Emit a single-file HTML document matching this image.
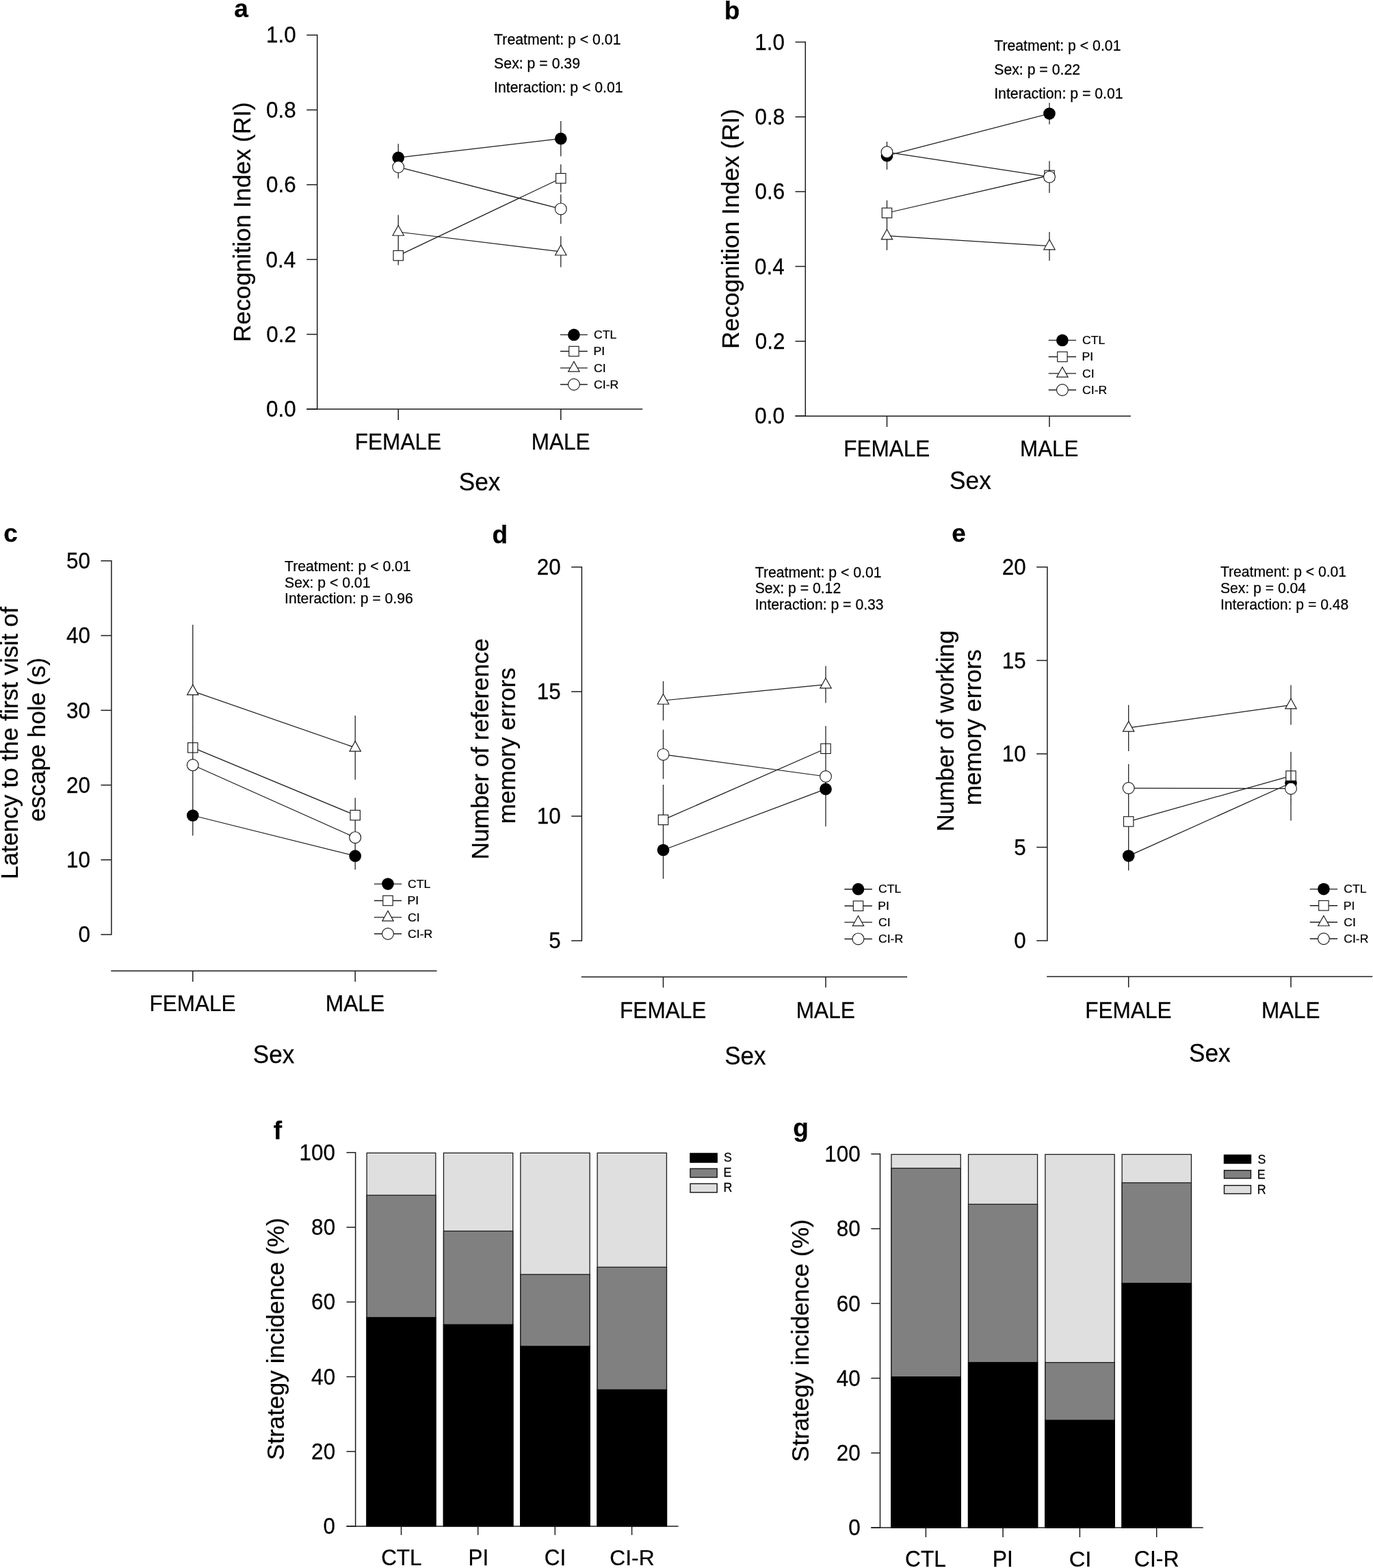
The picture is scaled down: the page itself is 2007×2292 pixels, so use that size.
<!DOCTYPE html>
<html lang="en">
<head>
<meta charset="utf-8">
<title>Figure</title>
<style>
html,body{margin:0;padding:0;background:#fff;}
body{width:2007px;height:2292px;overflow:hidden;}
svg{display:block;font-family:"Liberation Sans",sans-serif;}
svg text{fill:#000;stroke:#000;stroke-width:0.25px;white-space:pre;}
</style>
</head>
<body>
<svg width="2007" height="2292" viewBox="0 0 2007 2292">
<rect x="0" y="0" width="2007" height="2292" fill="#fff"/>
<line x1="463.70" y1="50.55" x2="463.70" y2="598.75" stroke="#1c1c1c" stroke-width="1.5"/>
<line x1="448.30" y1="51.30" x2="463.70" y2="51.30" stroke="#1c1c1c" stroke-width="1.5"/>
<text transform="translate(388.88,62.48) scale(0.9350,1)" font-size="33.70">1.0</text>
<line x1="448.30" y1="160.64" x2="463.70" y2="160.64" stroke="#1c1c1c" stroke-width="1.5"/>
<text transform="translate(389.04,171.82) scale(0.9350,1)" font-size="33.70">0.8</text>
<line x1="448.30" y1="269.98" x2="463.70" y2="269.98" stroke="#1c1c1c" stroke-width="1.5"/>
<text transform="translate(389.04,281.16) scale(0.9350,1)" font-size="33.70">0.6</text>
<line x1="448.30" y1="379.32" x2="463.70" y2="379.32" stroke="#1c1c1c" stroke-width="1.5"/>
<text transform="translate(388.57,390.50) scale(0.9350,1)" font-size="33.70">0.4</text>
<line x1="448.30" y1="488.66" x2="463.70" y2="488.66" stroke="#1c1c1c" stroke-width="1.5"/>
<text transform="translate(389.28,499.84) scale(0.9350,1)" font-size="33.70">0.2</text>
<line x1="448.30" y1="598.00" x2="463.70" y2="598.00" stroke="#1c1c1c" stroke-width="1.5"/>
<text transform="translate(388.88,609.18) scale(0.9350,1)" font-size="33.70">0.0</text>
<line x1="448.30" y1="598.10" x2="939.20" y2="598.10" stroke="#1c1c1c" stroke-width="1.5"/>
<line x1="582.20" y1="598.10" x2="582.20" y2="613.90" stroke="#1c1c1c" stroke-width="1.5"/>
<text transform="translate(518.80,657.30) scale(0.9773,1)" font-size="32.30">FEMALE</text>
<line x1="819.80" y1="598.10" x2="819.80" y2="613.90" stroke="#1c1c1c" stroke-width="1.5"/>
<text transform="translate(776.70,657.30) scale(0.9750,1)" font-size="32.30">MALE</text>
<text transform="translate(670.71,716.90) scale(0.9477,1)" font-size="37.20">Sex</text>
<text transform="translate(365.70,499.91) rotate(-90) scale(0.9821,1)" font-size="35.90">Recognition Index (RI)</text>
<text transform="translate(342.29,24.70)" font-size="37.00" font-weight="bold">a</text>
<text transform="translate(722.12,64.70) scale(0.9673,1)" font-size="22.00">Treatment: p &lt; 0.01</text>
<text transform="translate(722.12,99.80) scale(0.9673,1)" font-size="22.00">Sex: p = 0.39</text>
<text transform="translate(722.12,135.00) scale(0.9673,1)" font-size="22.00">Interaction: p &lt; 0.01</text>
<line x1="582.20" y1="210.20" x2="582.20" y2="250.60" stroke="#1c1c1c" stroke-width="1.25"/>
<line x1="819.80" y1="177.10" x2="819.80" y2="228.60" stroke="#1c1c1c" stroke-width="1.25"/>
<line x1="582.20" y1="230.40" x2="819.80" y2="202.70" stroke="#1c1c1c" stroke-width="1.25"/>
<circle cx="582.20" cy="230.40" r="8.85" fill="#000"/>
<circle cx="819.80" cy="202.70" r="8.85" fill="#000"/>
<line x1="582.20" y1="359.70" x2="582.20" y2="387.50" stroke="#1c1c1c" stroke-width="1.25"/>
<line x1="819.80" y1="240.20" x2="819.80" y2="281.30" stroke="#1c1c1c" stroke-width="1.25"/>
<line x1="582.20" y1="373.60" x2="819.80" y2="260.70" stroke="#1c1c1c" stroke-width="1.25"/>
<rect x="575.00" y="366.40" width="14.40" height="14.40" fill="#fff" stroke="#1c1c1c" stroke-width="1.15"/>
<rect x="812.60" y="253.50" width="14.40" height="14.40" fill="#fff" stroke="#1c1c1c" stroke-width="1.15"/>
<line x1="582.20" y1="314.30" x2="582.20" y2="360.00" stroke="#1c1c1c" stroke-width="1.25"/>
<line x1="819.80" y1="345.20" x2="819.80" y2="390.50" stroke="#1c1c1c" stroke-width="1.25"/>
<line x1="582.20" y1="339.00" x2="819.80" y2="367.80" stroke="#1c1c1c" stroke-width="1.25"/>
<polygon points="582.20,329.50 590.40,344.20 574.00,344.20" fill="#fff" stroke="#1c1c1c" stroke-width="1.15" stroke-linejoin="miter"/>
<polygon points="819.80,358.30 828.00,373.00 811.60,373.00" fill="#fff" stroke="#1c1c1c" stroke-width="1.15" stroke-linejoin="miter"/>
<line x1="582.20" y1="238.55" x2="582.20" y2="239.55" stroke="#1c1c1c" stroke-width="1.25"/>
<line x1="582.20" y1="250.30" x2="582.20" y2="260.70" stroke="#1c1c1c" stroke-width="1.25"/>
<line x1="819.80" y1="284.30" x2="819.80" y2="327.30" stroke="#1c1c1c" stroke-width="1.25"/>
<line x1="582.20" y1="244.10" x2="819.80" y2="305.40" stroke="#1c1c1c" stroke-width="1.25"/>
<circle cx="582.20" cy="244.10" r="8.4" fill="#fff" stroke="#1c1c1c" stroke-width="1.15"/>
<circle cx="819.80" cy="305.40" r="8.4" fill="#fff" stroke="#1c1c1c" stroke-width="1.15"/>
<line x1="819.00" y1="489.40" x2="858.80" y2="489.40" stroke="#1c1c1c" stroke-width="1.35"/>
<circle cx="838.90" cy="489.40" r="8.85" fill="#000"/>
<text transform="translate(868.02,495.30) scale(1.0150,1)" font-size="17.40">CTL</text>
<line x1="819.00" y1="513.50" x2="858.80" y2="513.50" stroke="#1c1c1c" stroke-width="1.35"/>
<rect x="831.70" y="506.30" width="14.40" height="14.40" fill="#fff" stroke="#1c1c1c" stroke-width="1.15"/>
<text transform="translate(867.44,519.40) scale(1.0150,1)" font-size="17.40">PI</text>
<line x1="819.00" y1="537.90" x2="858.80" y2="537.90" stroke="#1c1c1c" stroke-width="1.35"/>
<polygon points="838.90,528.40 847.10,543.10 830.70,543.10" fill="#fff" stroke="#1c1c1c" stroke-width="1.15" stroke-linejoin="miter"/>
<text transform="translate(868.02,543.80) scale(1.0150,1)" font-size="17.40">CI</text>
<line x1="819.00" y1="562.00" x2="858.80" y2="562.00" stroke="#1c1c1c" stroke-width="1.35"/>
<circle cx="838.90" cy="562.00" r="8.4" fill="#fff" stroke="#1c1c1c" stroke-width="1.15"/>
<text transform="translate(868.02,567.90) scale(1.0150,1)" font-size="17.40">CI-R</text>
<line x1="1177.30" y1="60.75" x2="1177.30" y2="608.85" stroke="#1c1c1c" stroke-width="1.5"/>
<line x1="1162.50" y1="61.50" x2="1177.30" y2="61.50" stroke="#1c1c1c" stroke-width="1.5"/>
<text transform="translate(1103.28,72.68) scale(0.9350,1)" font-size="33.70">1.0</text>
<line x1="1162.50" y1="170.82" x2="1177.30" y2="170.82" stroke="#1c1c1c" stroke-width="1.5"/>
<text transform="translate(1103.44,182.00) scale(0.9350,1)" font-size="33.70">0.8</text>
<line x1="1162.50" y1="280.14" x2="1177.30" y2="280.14" stroke="#1c1c1c" stroke-width="1.5"/>
<text transform="translate(1103.44,291.32) scale(0.9350,1)" font-size="33.70">0.6</text>
<line x1="1162.50" y1="389.46" x2="1177.30" y2="389.46" stroke="#1c1c1c" stroke-width="1.5"/>
<text transform="translate(1102.97,400.64) scale(0.9350,1)" font-size="33.70">0.4</text>
<line x1="1162.50" y1="498.78" x2="1177.30" y2="498.78" stroke="#1c1c1c" stroke-width="1.5"/>
<text transform="translate(1103.68,509.96) scale(0.9350,1)" font-size="33.70">0.2</text>
<line x1="1162.50" y1="608.10" x2="1177.30" y2="608.10" stroke="#1c1c1c" stroke-width="1.5"/>
<text transform="translate(1103.28,619.28) scale(0.9350,1)" font-size="33.70">0.0</text>
<line x1="1162.50" y1="608.20" x2="1652.90" y2="608.20" stroke="#1c1c1c" stroke-width="1.5"/>
<line x1="1296.50" y1="608.20" x2="1296.50" y2="624.00" stroke="#1c1c1c" stroke-width="1.5"/>
<text transform="translate(1233.20,667.30) scale(0.9757,1)" font-size="32.30">FEMALE</text>
<line x1="1534.00" y1="608.20" x2="1534.00" y2="624.00" stroke="#1c1c1c" stroke-width="1.5"/>
<text transform="translate(1491.11,667.30) scale(0.9702,1)" font-size="32.30">MALE</text>
<text transform="translate(1388.11,715.10) scale(0.9477,1)" font-size="37.20">Sex</text>
<text transform="translate(1080.20,509.91) rotate(-90) scale(0.9824,1)" font-size="35.90">Recognition Index (RI)</text>
<text transform="translate(1058.69,28.10)" font-size="37.00" font-weight="bold">b</text>
<text transform="translate(1453.22,74.00) scale(0.9661,1)" font-size="22.00">Treatment: p &lt; 0.01</text>
<text transform="translate(1453.22,109.10) scale(0.9661,1)" font-size="22.00">Sex: p = 0.22</text>
<text transform="translate(1453.22,144.30) scale(0.9661,1)" font-size="22.00">Interaction: p = 0.01</text>
<line x1="1296.50" y1="207.50" x2="1296.50" y2="247.90" stroke="#1c1c1c" stroke-width="1.25"/>
<line x1="1534.00" y1="150.20" x2="1534.00" y2="181.80" stroke="#1c1c1c" stroke-width="1.25"/>
<line x1="1296.50" y1="227.70" x2="1534.00" y2="166.10" stroke="#1c1c1c" stroke-width="1.25"/>
<circle cx="1296.50" cy="227.70" r="8.85" fill="#000"/>
<circle cx="1534.00" cy="166.10" r="8.85" fill="#000"/>
<line x1="1296.50" y1="292.90" x2="1296.50" y2="329.60" stroke="#1c1c1c" stroke-width="1.25"/>
<line x1="1534.00" y1="235.40" x2="1534.00" y2="277.40" stroke="#1c1c1c" stroke-width="1.25"/>
<line x1="1296.50" y1="311.25" x2="1534.00" y2="256.40" stroke="#1c1c1c" stroke-width="1.25"/>
<rect x="1289.30" y="304.05" width="14.40" height="14.40" fill="#fff" stroke="#1c1c1c" stroke-width="1.15"/>
<rect x="1526.80" y="249.20" width="14.40" height="14.40" fill="#fff" stroke="#1c1c1c" stroke-width="1.15"/>
<line x1="1296.50" y1="329.30" x2="1296.50" y2="365.70" stroke="#1c1c1c" stroke-width="1.25"/>
<line x1="1534.00" y1="338.90" x2="1534.00" y2="380.90" stroke="#1c1c1c" stroke-width="1.25"/>
<line x1="1296.50" y1="344.70" x2="1534.00" y2="359.60" stroke="#1c1c1c" stroke-width="1.25"/>
<polygon points="1296.50,335.20 1304.70,349.90 1288.30,349.90" fill="#fff" stroke="#1c1c1c" stroke-width="1.15" stroke-linejoin="miter"/>
<polygon points="1534.00,350.10 1542.20,364.80 1525.80,364.80" fill="#fff" stroke="#1c1c1c" stroke-width="1.15" stroke-linejoin="miter"/>
<line x1="1296.50" y1="207.10" x2="1296.50" y2="207.80" stroke="#1c1c1c" stroke-width="1.25"/>
<line x1="1296.50" y1="218.55" x2="1296.50" y2="219.55" stroke="#1c1c1c" stroke-width="1.25"/>
<line x1="1296.50" y1="235.85" x2="1296.50" y2="236.85" stroke="#1c1c1c" stroke-width="1.25"/>
<line x1="1534.00" y1="235.40" x2="1534.00" y2="235.70" stroke="#1c1c1c" stroke-width="1.25"/>
<line x1="1534.00" y1="248.70" x2="1534.00" y2="264.10" stroke="#1c1c1c" stroke-width="1.25"/>
<line x1="1534.00" y1="277.10" x2="1534.00" y2="282.10" stroke="#1c1c1c" stroke-width="1.25"/>
<line x1="1296.50" y1="222.30" x2="1534.00" y2="258.60" stroke="#1c1c1c" stroke-width="1.25"/>
<circle cx="1296.50" cy="222.30" r="8.4" fill="#fff" stroke="#1c1c1c" stroke-width="1.15"/>
<circle cx="1534.00" cy="258.60" r="8.4" fill="#fff" stroke="#1c1c1c" stroke-width="1.15"/>
<line x1="1532.70" y1="497.40" x2="1573.10" y2="497.40" stroke="#1c1c1c" stroke-width="1.35"/>
<circle cx="1552.90" cy="497.40" r="8.85" fill="#000"/>
<text transform="translate(1582.02,503.25) scale(1.0150,1)" font-size="17.40">CTL</text>
<line x1="1532.70" y1="521.50" x2="1573.10" y2="521.50" stroke="#1c1c1c" stroke-width="1.35"/>
<rect x="1545.70" y="514.30" width="14.40" height="14.40" fill="#fff" stroke="#1c1c1c" stroke-width="1.15"/>
<text transform="translate(1581.44,527.35) scale(1.0150,1)" font-size="17.40">PI</text>
<line x1="1532.70" y1="545.90" x2="1573.10" y2="545.90" stroke="#1c1c1c" stroke-width="1.35"/>
<polygon points="1552.90,536.40 1561.10,551.10 1544.70,551.10" fill="#fff" stroke="#1c1c1c" stroke-width="1.15" stroke-linejoin="miter"/>
<text transform="translate(1582.02,551.75) scale(1.0150,1)" font-size="17.40">CI</text>
<line x1="1532.70" y1="570.00" x2="1573.10" y2="570.00" stroke="#1c1c1c" stroke-width="1.35"/>
<circle cx="1552.90" cy="570.00" r="8.4" fill="#fff" stroke="#1c1c1c" stroke-width="1.15"/>
<text transform="translate(1582.02,575.85) scale(1.0150,1)" font-size="17.40">CI-R</text>
<line x1="162.90" y1="819.05" x2="162.90" y2="1366.85" stroke="#1c1c1c" stroke-width="1.5"/>
<line x1="147.50" y1="819.80" x2="162.90" y2="819.80" stroke="#1c1c1c" stroke-width="1.5"/>
<text transform="translate(97.01,830.98) scale(0.9350,1)" font-size="33.70">50</text>
<line x1="147.50" y1="929.06" x2="162.90" y2="929.06" stroke="#1c1c1c" stroke-width="1.5"/>
<text transform="translate(97.01,940.24) scale(0.9350,1)" font-size="33.70">40</text>
<line x1="147.50" y1="1038.32" x2="162.90" y2="1038.32" stroke="#1c1c1c" stroke-width="1.5"/>
<text transform="translate(97.01,1049.50) scale(0.9350,1)" font-size="33.70">30</text>
<line x1="147.50" y1="1147.58" x2="162.90" y2="1147.58" stroke="#1c1c1c" stroke-width="1.5"/>
<text transform="translate(97.01,1158.76) scale(0.9350,1)" font-size="33.70">20</text>
<line x1="147.50" y1="1256.84" x2="162.90" y2="1256.84" stroke="#1c1c1c" stroke-width="1.5"/>
<text transform="translate(97.01,1268.02) scale(0.9350,1)" font-size="33.70">10</text>
<line x1="147.50" y1="1366.10" x2="162.90" y2="1366.10" stroke="#1c1c1c" stroke-width="1.5"/>
<text transform="translate(114.49,1377.28) scale(0.9350,1)" font-size="33.70">0</text>
<line x1="162.20" y1="1419.20" x2="638.60" y2="1419.20" stroke="#1c1c1c" stroke-width="1.5"/>
<line x1="281.80" y1="1419.20" x2="281.80" y2="1434.90" stroke="#1c1c1c" stroke-width="1.5"/>
<text transform="translate(218.60,1478.40) scale(0.9741,1)" font-size="32.30">FEMALE</text>
<line x1="519.20" y1="1419.20" x2="519.20" y2="1434.90" stroke="#1c1c1c" stroke-width="1.5"/>
<text transform="translate(475.68,1478.40) scale(0.9845,1)" font-size="32.30">MALE</text>
<text transform="translate(369.82,1554.30) scale(0.9445,1)" font-size="37.20">Sex</text>
<text transform="translate(26.20,1285.21) rotate(-90) scale(0.9834,1)" font-size="35.90">Latency to the first visit of</text>
<text transform="translate(65.90,1200.89) rotate(-90) scale(0.9764,1)" font-size="35.90">escape hole (s)</text>
<text transform="translate(5.32,791.70)" font-size="37.00" font-weight="bold">c</text>
<text transform="translate(416.07,835.00) scale(0.9630,1)" font-size="22.00">Treatment: p &lt; 0.01</text>
<text transform="translate(416.07,858.50) scale(0.9630,1)" font-size="22.00">Sex: p &lt; 0.01</text>
<text transform="translate(416.07,882.00) scale(0.9630,1)" font-size="22.00">Interaction: p = 0.96</text>
<line x1="281.80" y1="1162.50" x2="281.80" y2="1221.50" stroke="#1c1c1c" stroke-width="1.25"/>
<line x1="519.20" y1="1231.10" x2="519.20" y2="1271.30" stroke="#1c1c1c" stroke-width="1.25"/>
<line x1="281.80" y1="1192.00" x2="519.20" y2="1251.20" stroke="#1c1c1c" stroke-width="1.25"/>
<circle cx="281.80" cy="1192.00" r="8.85" fill="#000"/>
<circle cx="519.20" cy="1251.20" r="8.85" fill="#000"/>
<line x1="281.80" y1="1063.00" x2="281.80" y2="1123.00" stroke="#1c1c1c" stroke-width="1.25"/>
<line x1="519.20" y1="1166.20" x2="519.20" y2="1217.00" stroke="#1c1c1c" stroke-width="1.25"/>
<line x1="281.80" y1="1092.90" x2="519.20" y2="1191.60" stroke="#1c1c1c" stroke-width="1.25"/>
<rect x="274.60" y="1085.70" width="14.40" height="14.40" fill="#fff" stroke="#1c1c1c" stroke-width="1.15"/>
<rect x="512.00" y="1184.40" width="14.40" height="14.40" fill="#fff" stroke="#1c1c1c" stroke-width="1.15"/>
<line x1="281.80" y1="913.20" x2="281.80" y2="1063.30" stroke="#1c1c1c" stroke-width="1.25"/>
<line x1="281.80" y1="1085.20" x2="281.80" y2="1100.60" stroke="#1c1c1c" stroke-width="1.25"/>
<line x1="519.20" y1="1046.05" x2="519.20" y2="1139.80" stroke="#1c1c1c" stroke-width="1.25"/>
<line x1="281.80" y1="1010.40" x2="519.20" y2="1092.90" stroke="#1c1c1c" stroke-width="1.25"/>
<polygon points="281.80,1000.90 290.00,1015.60 273.60,1015.60" fill="#fff" stroke="#1c1c1c" stroke-width="1.15" stroke-linejoin="miter"/>
<polygon points="519.20,1083.40 527.40,1098.10 511.00,1098.10" fill="#fff" stroke="#1c1c1c" stroke-width="1.15" stroke-linejoin="miter"/>
<line x1="281.80" y1="1107.30" x2="281.80" y2="1107.90" stroke="#1c1c1c" stroke-width="1.25"/>
<line x1="281.80" y1="1122.70" x2="281.80" y2="1162.80" stroke="#1c1c1c" stroke-width="1.25"/>
<line x1="519.20" y1="1216.70" x2="519.20" y2="1231.40" stroke="#1c1c1c" stroke-width="1.25"/>
<line x1="519.20" y1="1242.05" x2="519.20" y2="1243.05" stroke="#1c1c1c" stroke-width="1.25"/>
<line x1="281.80" y1="1118.30" x2="519.20" y2="1224.20" stroke="#1c1c1c" stroke-width="1.25"/>
<circle cx="281.80" cy="1118.30" r="8.4" fill="#fff" stroke="#1c1c1c" stroke-width="1.15"/>
<circle cx="519.20" cy="1224.20" r="8.4" fill="#fff" stroke="#1c1c1c" stroke-width="1.15"/>
<line x1="546.90" y1="1292.10" x2="587.10" y2="1292.10" stroke="#1c1c1c" stroke-width="1.35"/>
<circle cx="567.00" cy="1292.10" r="8.85" fill="#000"/>
<text transform="translate(596.02,1297.80) scale(1.0150,1)" font-size="17.40">CTL</text>
<line x1="546.90" y1="1316.50" x2="587.10" y2="1316.50" stroke="#1c1c1c" stroke-width="1.35"/>
<rect x="559.80" y="1309.30" width="14.40" height="14.40" fill="#fff" stroke="#1c1c1c" stroke-width="1.15"/>
<text transform="translate(595.44,1322.20) scale(1.0150,1)" font-size="17.40">PI</text>
<line x1="546.90" y1="1340.90" x2="587.10" y2="1340.90" stroke="#1c1c1c" stroke-width="1.35"/>
<polygon points="567.00,1331.40 575.20,1346.10 558.80,1346.10" fill="#fff" stroke="#1c1c1c" stroke-width="1.15" stroke-linejoin="miter"/>
<text transform="translate(596.02,1346.60) scale(1.0150,1)" font-size="17.40">CI</text>
<line x1="546.90" y1="1365.00" x2="587.10" y2="1365.00" stroke="#1c1c1c" stroke-width="1.35"/>
<circle cx="567.00" cy="1365.00" r="8.4" fill="#fff" stroke="#1c1c1c" stroke-width="1.15"/>
<text transform="translate(596.02,1370.70) scale(1.0150,1)" font-size="17.40">CI-R</text>
<line x1="850.40" y1="828.15" x2="850.40" y2="1375.85" stroke="#1c1c1c" stroke-width="1.5"/>
<line x1="835.20" y1="828.90" x2="850.40" y2="828.90" stroke="#1c1c1c" stroke-width="1.5"/>
<text transform="translate(784.71,840.08) scale(0.9350,1)" font-size="33.70">20</text>
<line x1="835.20" y1="1010.97" x2="850.40" y2="1010.97" stroke="#1c1c1c" stroke-width="1.5"/>
<text transform="translate(784.78,1022.15) scale(0.9350,1)" font-size="33.70">15</text>
<line x1="835.20" y1="1193.03" x2="850.40" y2="1193.03" stroke="#1c1c1c" stroke-width="1.5"/>
<text transform="translate(784.71,1204.21) scale(0.9350,1)" font-size="33.70">10</text>
<line x1="835.20" y1="1375.10" x2="850.40" y2="1375.10" stroke="#1c1c1c" stroke-width="1.5"/>
<text transform="translate(802.27,1386.28) scale(0.9350,1)" font-size="33.70">5</text>
<line x1="849.70" y1="1428.00" x2="1326.10" y2="1428.00" stroke="#1c1c1c" stroke-width="1.5"/>
<line x1="969.50" y1="1428.00" x2="969.50" y2="1443.60" stroke="#1c1c1c" stroke-width="1.5"/>
<text transform="translate(906.10,1487.80) scale(0.9773,1)" font-size="32.30">FEMALE</text>
<line x1="1207.00" y1="1428.00" x2="1207.00" y2="1443.60" stroke="#1c1c1c" stroke-width="1.5"/>
<text transform="translate(1163.64,1487.80) scale(0.9809,1)" font-size="32.30">MALE</text>
<text transform="translate(1059.22,1555.80) scale(0.9429,1)" font-size="37.20">Sex</text>
<text transform="translate(714.20,1256.51) rotate(-90) scale(0.9821,1)" font-size="35.90">Number of reference</text>
<text transform="translate(753.05,1204.37) rotate(-90) scale(0.9792,1)" font-size="35.90">memory errors</text>
<text transform="translate(719.52,794.40)" font-size="37.00" font-weight="bold">d</text>
<text transform="translate(1103.72,843.80) scale(0.9637,1)" font-size="22.00">Treatment: p &lt; 0.01</text>
<text transform="translate(1103.72,867.30) scale(0.9637,1)" font-size="22.00">Sex: p = 0.12</text>
<text transform="translate(1103.72,890.95) scale(0.9637,1)" font-size="22.00">Interaction: p = 0.33</text>
<line x1="969.50" y1="1200.40" x2="969.50" y2="1284.60" stroke="#1c1c1c" stroke-width="1.25"/>
<line x1="1207.00" y1="1098.90" x2="1207.00" y2="1207.90" stroke="#1c1c1c" stroke-width="1.25"/>
<line x1="969.50" y1="1242.50" x2="1207.00" y2="1153.40" stroke="#1c1c1c" stroke-width="1.25"/>
<circle cx="969.50" cy="1242.50" r="8.85" fill="#000"/>
<circle cx="1207.00" cy="1153.40" r="8.85" fill="#000"/>
<line x1="969.50" y1="1147.00" x2="969.50" y2="1200.70" stroke="#1c1c1c" stroke-width="1.25"/>
<line x1="969.50" y1="1233.35" x2="969.50" y2="1234.35" stroke="#1c1c1c" stroke-width="1.25"/>
<line x1="1207.00" y1="1061.25" x2="1207.00" y2="1099.20" stroke="#1c1c1c" stroke-width="1.25"/>
<line x1="969.50" y1="1198.40" x2="1207.00" y2="1094.30" stroke="#1c1c1c" stroke-width="1.25"/>
<rect x="962.30" y="1191.20" width="14.40" height="14.40" fill="#fff" stroke="#1c1c1c" stroke-width="1.15"/>
<rect x="1199.80" y="1087.10" width="14.40" height="14.40" fill="#fff" stroke="#1c1c1c" stroke-width="1.15"/>
<line x1="969.50" y1="995.70" x2="969.50" y2="1053.20" stroke="#1c1c1c" stroke-width="1.25"/>
<line x1="1207.00" y1="973.40" x2="1207.00" y2="1027.50" stroke="#1c1c1c" stroke-width="1.25"/>
<line x1="969.50" y1="1024.00" x2="1207.00" y2="1000.70" stroke="#1c1c1c" stroke-width="1.25"/>
<polygon points="969.50,1014.50 977.70,1029.20 961.30,1029.20" fill="#fff" stroke="#1c1c1c" stroke-width="1.15" stroke-linejoin="miter"/>
<polygon points="1207.00,991.20 1215.20,1005.90 1198.80,1005.90" fill="#fff" stroke="#1c1c1c" stroke-width="1.15" stroke-linejoin="miter"/>
<line x1="969.50" y1="1066.60" x2="969.50" y2="1138.60" stroke="#1c1c1c" stroke-width="1.25"/>
<line x1="1207.00" y1="1086.60" x2="1207.00" y2="1102.00" stroke="#1c1c1c" stroke-width="1.25"/>
<line x1="1207.00" y1="1127.00" x2="1207.00" y2="1127.60" stroke="#1c1c1c" stroke-width="1.25"/>
<line x1="1207.00" y1="1144.25" x2="1207.00" y2="1145.25" stroke="#1c1c1c" stroke-width="1.25"/>
<line x1="1207.00" y1="1161.55" x2="1207.00" y2="1162.55" stroke="#1c1c1c" stroke-width="1.25"/>
<line x1="969.50" y1="1102.90" x2="1207.00" y2="1135.00" stroke="#1c1c1c" stroke-width="1.25"/>
<circle cx="969.50" cy="1102.90" r="8.4" fill="#fff" stroke="#1c1c1c" stroke-width="1.15"/>
<circle cx="1207.00" cy="1135.00" r="8.4" fill="#fff" stroke="#1c1c1c" stroke-width="1.15"/>
<line x1="1234.40" y1="1299.70" x2="1274.90" y2="1299.70" stroke="#1c1c1c" stroke-width="1.35"/>
<circle cx="1254.50" cy="1299.70" r="8.85" fill="#000"/>
<text transform="translate(1283.92,1305.45) scale(1.0150,1)" font-size="17.40">CTL</text>
<line x1="1234.40" y1="1324.20" x2="1274.90" y2="1324.20" stroke="#1c1c1c" stroke-width="1.35"/>
<rect x="1247.30" y="1317.00" width="14.40" height="14.40" fill="#fff" stroke="#1c1c1c" stroke-width="1.15"/>
<text transform="translate(1283.34,1329.95) scale(1.0150,1)" font-size="17.40">PI</text>
<line x1="1234.40" y1="1348.10" x2="1274.90" y2="1348.10" stroke="#1c1c1c" stroke-width="1.35"/>
<polygon points="1254.50,1338.60 1262.70,1353.30 1246.30,1353.30" fill="#fff" stroke="#1c1c1c" stroke-width="1.15" stroke-linejoin="miter"/>
<text transform="translate(1283.92,1353.85) scale(1.0150,1)" font-size="17.40">CI</text>
<line x1="1234.40" y1="1372.45" x2="1274.90" y2="1372.45" stroke="#1c1c1c" stroke-width="1.35"/>
<circle cx="1254.50" cy="1372.45" r="8.4" fill="#fff" stroke="#1c1c1c" stroke-width="1.15"/>
<text transform="translate(1283.92,1378.20) scale(1.0150,1)" font-size="17.40">CI-R</text>
<line x1="1530.90" y1="828.15" x2="1530.90" y2="1375.75" stroke="#1c1c1c" stroke-width="1.5"/>
<line x1="1515.20" y1="828.90" x2="1530.90" y2="828.90" stroke="#1c1c1c" stroke-width="1.5"/>
<text transform="translate(1464.71,840.08) scale(0.9350,1)" font-size="33.70">20</text>
<line x1="1515.20" y1="965.42" x2="1530.90" y2="965.42" stroke="#1c1c1c" stroke-width="1.5"/>
<text transform="translate(1464.78,976.60) scale(0.9350,1)" font-size="33.70">15</text>
<line x1="1515.20" y1="1101.95" x2="1530.90" y2="1101.95" stroke="#1c1c1c" stroke-width="1.5"/>
<text transform="translate(1464.71,1113.13) scale(0.9350,1)" font-size="33.70">10</text>
<line x1="1515.20" y1="1238.47" x2="1530.90" y2="1238.47" stroke="#1c1c1c" stroke-width="1.5"/>
<text transform="translate(1482.27,1249.65) scale(0.9350,1)" font-size="33.70">5</text>
<line x1="1515.20" y1="1375.00" x2="1530.90" y2="1375.00" stroke="#1c1c1c" stroke-width="1.5"/>
<text transform="translate(1482.19,1386.18) scale(0.9350,1)" font-size="33.70">0</text>
<line x1="1530.20" y1="1427.60" x2="2006.30" y2="1427.60" stroke="#1c1c1c" stroke-width="1.5"/>
<line x1="1649.70" y1="1427.60" x2="1649.70" y2="1443.30" stroke="#1c1c1c" stroke-width="1.5"/>
<text transform="translate(1586.30,1487.80) scale(0.9773,1)" font-size="32.30">FEMALE</text>
<line x1="1887.00" y1="1427.60" x2="1887.00" y2="1443.30" stroke="#1c1c1c" stroke-width="1.5"/>
<text transform="translate(1843.90,1487.80) scale(0.9750,1)" font-size="32.30">MALE</text>
<text transform="translate(1738.07,1551.50) scale(0.9445,1)" font-size="37.20">Sex</text>
<text transform="translate(1394.20,1215.49) rotate(-90) scale(0.9764,1)" font-size="35.90">Number of working</text>
<text transform="translate(1433.60,1177.37) rotate(-90) scale(0.9784,1)" font-size="35.90">memory errors</text>
<text transform="translate(1391.32,792.20)" font-size="37.00" font-weight="bold">e</text>
<text transform="translate(1783.92,843.40) scale(0.9608,1)" font-size="22.00">Treatment: p &lt; 0.01</text>
<text transform="translate(1783.92,867.00) scale(0.9608,1)" font-size="22.00">Sex: p = 0.04</text>
<text transform="translate(1783.92,890.50) scale(0.9608,1)" font-size="22.00">Interaction: p = 0.48</text>
<line x1="1649.70" y1="1229.70" x2="1649.70" y2="1272.50" stroke="#1c1c1c" stroke-width="1.25"/>
<line x1="1887.00" y1="1115.00" x2="1887.00" y2="1174.00" stroke="#1c1c1c" stroke-width="1.25"/>
<line x1="1649.70" y1="1251.10" x2="1887.00" y2="1144.50" stroke="#1c1c1c" stroke-width="1.25"/>
<circle cx="1649.70" cy="1251.10" r="8.85" fill="#000"/>
<circle cx="1887.00" cy="1144.50" r="8.85" fill="#000"/>
<line x1="1649.70" y1="1170.00" x2="1649.70" y2="1230.00" stroke="#1c1c1c" stroke-width="1.25"/>
<line x1="1887.00" y1="1099.10" x2="1887.00" y2="1115.30" stroke="#1c1c1c" stroke-width="1.25"/>
<line x1="1887.00" y1="1135.35" x2="1887.00" y2="1136.35" stroke="#1c1c1c" stroke-width="1.25"/>
<line x1="1887.00" y1="1152.65" x2="1887.00" y2="1153.65" stroke="#1c1c1c" stroke-width="1.25"/>
<line x1="1649.70" y1="1200.90" x2="1887.00" y2="1134.10" stroke="#1c1c1c" stroke-width="1.25"/>
<rect x="1642.50" y="1193.70" width="14.40" height="14.40" fill="#fff" stroke="#1c1c1c" stroke-width="1.15"/>
<rect x="1879.80" y="1126.90" width="14.40" height="14.40" fill="#fff" stroke="#1c1c1c" stroke-width="1.15"/>
<line x1="1649.70" y1="1030.40" x2="1649.70" y2="1097.90" stroke="#1c1c1c" stroke-width="1.25"/>
<line x1="1887.00" y1="1001.40" x2="1887.00" y2="1059.50" stroke="#1c1c1c" stroke-width="1.25"/>
<line x1="1649.70" y1="1063.90" x2="1887.00" y2="1030.70" stroke="#1c1c1c" stroke-width="1.25"/>
<polygon points="1649.70,1054.40 1657.90,1069.10 1641.50,1069.10" fill="#fff" stroke="#1c1c1c" stroke-width="1.15" stroke-linejoin="miter"/>
<polygon points="1887.00,1021.20 1895.20,1035.90 1878.80,1035.90" fill="#fff" stroke="#1c1c1c" stroke-width="1.15" stroke-linejoin="miter"/>
<line x1="1649.70" y1="1117.10" x2="1649.70" y2="1170.30" stroke="#1c1c1c" stroke-width="1.25"/>
<line x1="1887.00" y1="1126.40" x2="1887.00" y2="1141.80" stroke="#1c1c1c" stroke-width="1.25"/>
<line x1="1887.00" y1="1168.80" x2="1887.00" y2="1169.40" stroke="#1c1c1c" stroke-width="1.25"/>
<line x1="1887.00" y1="1173.70" x2="1887.00" y2="1199.60" stroke="#1c1c1c" stroke-width="1.25"/>
<line x1="1649.70" y1="1152.00" x2="1887.00" y2="1152.70" stroke="#1c1c1c" stroke-width="1.25"/>
<circle cx="1649.70" cy="1152.00" r="8.4" fill="#fff" stroke="#1c1c1c" stroke-width="1.15"/>
<circle cx="1887.00" cy="1152.70" r="8.4" fill="#fff" stroke="#1c1c1c" stroke-width="1.15"/>
<line x1="1914.70" y1="1299.60" x2="1955.10" y2="1299.60" stroke="#1c1c1c" stroke-width="1.35"/>
<circle cx="1934.90" cy="1299.60" r="8.85" fill="#000"/>
<text transform="translate(1964.22,1305.40) scale(1.0150,1)" font-size="17.40">CTL</text>
<line x1="1914.70" y1="1323.70" x2="1955.10" y2="1323.70" stroke="#1c1c1c" stroke-width="1.35"/>
<rect x="1927.70" y="1316.50" width="14.40" height="14.40" fill="#fff" stroke="#1c1c1c" stroke-width="1.15"/>
<text transform="translate(1963.64,1329.50) scale(1.0150,1)" font-size="17.40">PI</text>
<line x1="1914.70" y1="1348.00" x2="1955.10" y2="1348.00" stroke="#1c1c1c" stroke-width="1.35"/>
<polygon points="1934.90,1338.50 1943.10,1353.20 1926.70,1353.20" fill="#fff" stroke="#1c1c1c" stroke-width="1.15" stroke-linejoin="miter"/>
<text transform="translate(1964.22,1353.80) scale(1.0150,1)" font-size="17.40">CI</text>
<line x1="1914.70" y1="1372.25" x2="1955.10" y2="1372.25" stroke="#1c1c1c" stroke-width="1.35"/>
<circle cx="1934.90" cy="1372.25" r="8.4" fill="#fff" stroke="#1c1c1c" stroke-width="1.15"/>
<text transform="translate(1964.22,1378.05) scale(1.0150,1)" font-size="17.40">CI-R</text>
<line x1="519.65" y1="1683.95" x2="519.65" y2="2231.65" stroke="#1c1c1c" stroke-width="1.5"/>
<line x1="506.50" y1="2230.90" x2="519.65" y2="2230.90" stroke="#1c1c1c" stroke-width="1.5"/>
<text transform="translate(472.59,2242.08) scale(0.9350,1)" font-size="33.70">0</text>
<line x1="506.50" y1="2121.66" x2="519.65" y2="2121.66" stroke="#1c1c1c" stroke-width="1.5"/>
<text transform="translate(455.11,2132.84) scale(0.9350,1)" font-size="33.70">20</text>
<line x1="506.50" y1="2012.42" x2="519.65" y2="2012.42" stroke="#1c1c1c" stroke-width="1.5"/>
<text transform="translate(455.11,2023.60) scale(0.9350,1)" font-size="33.70">40</text>
<line x1="506.50" y1="1903.18" x2="519.65" y2="1903.18" stroke="#1c1c1c" stroke-width="1.5"/>
<text transform="translate(455.11,1914.36) scale(0.9350,1)" font-size="33.70">60</text>
<line x1="506.50" y1="1793.94" x2="519.65" y2="1793.94" stroke="#1c1c1c" stroke-width="1.5"/>
<text transform="translate(455.11,1805.12) scale(0.9350,1)" font-size="33.70">80</text>
<line x1="506.50" y1="1684.70" x2="519.65" y2="1684.70" stroke="#1c1c1c" stroke-width="1.5"/>
<text transform="translate(437.54,1695.88) scale(0.9350,1)" font-size="33.70">100</text>
<rect x="536.15" y="1685.35" width="100.70" height="545.55" fill="#dfdfdf" stroke="#1c1c1c" stroke-width="1.3"/>
<rect x="536.15" y="1747.10" width="100.70" height="483.80" fill="#808080" stroke="#1c1c1c" stroke-width="1.3"/>
<rect x="535.50" y="1925.20" width="102.00" height="306.50" fill="#000"/>
<rect x="648.45" y="1685.35" width="101.30" height="545.55" fill="#dfdfdf" stroke="#1c1c1c" stroke-width="1.3"/>
<rect x="648.45" y="1799.50" width="101.30" height="431.40" fill="#808080" stroke="#1c1c1c" stroke-width="1.3"/>
<rect x="647.80" y="1935.60" width="102.60" height="296.10" fill="#000"/>
<rect x="760.85" y="1685.35" width="101.30" height="545.55" fill="#dfdfdf" stroke="#1c1c1c" stroke-width="1.3"/>
<rect x="760.85" y="1862.90" width="101.30" height="368.00" fill="#808080" stroke="#1c1c1c" stroke-width="1.3"/>
<rect x="760.20" y="1967.30" width="102.60" height="264.40" fill="#000"/>
<rect x="873.15" y="1685.35" width="101.30" height="545.55" fill="#dfdfdf" stroke="#1c1c1c" stroke-width="1.3"/>
<rect x="873.15" y="1852.25" width="101.30" height="378.65" fill="#808080" stroke="#1c1c1c" stroke-width="1.3"/>
<rect x="872.50" y="2030.80" width="102.60" height="200.90" fill="#000"/>
<line x1="506.50" y1="2230.90" x2="991.60" y2="2230.90" stroke="#1c1c1c" stroke-width="1.5"/>
<line x1="586.50" y1="2230.90" x2="586.50" y2="2243.80" stroke="#1c1c1c" stroke-width="1.5"/>
<text transform="translate(557.13,2287.60) scale(0.9742,1)" font-size="32.30">CTL</text>
<line x1="698.70" y1="2230.90" x2="698.70" y2="2243.80" stroke="#1c1c1c" stroke-width="1.5"/>
<text transform="translate(684.52,2287.60) scale(0.9690,1)" font-size="32.30">PI</text>
<line x1="811.30" y1="2230.90" x2="811.30" y2="2243.80" stroke="#1c1c1c" stroke-width="1.5"/>
<text transform="translate(795.83,2287.60) scale(0.9748,1)" font-size="32.30">CI</text>
<line x1="923.60" y1="2230.90" x2="923.60" y2="2243.80" stroke="#1c1c1c" stroke-width="1.5"/>
<text transform="translate(891.36,2287.60) scale(0.9838,1)" font-size="32.30">CI-R</text>
<text transform="translate(414.75,2134.18) rotate(-90) scale(0.9810,1)" font-size="35.90">Strategy incidence (%)</text>
<text transform="translate(399.85,1665.40)" font-size="37.00" font-weight="bold">f</text>
<rect x="1009.00" y="1686.00" width="39.20" height="13.00" fill="#000" stroke="#000" stroke-width="1.5"/>
<text transform="translate(1058.10,1698.00) scale(1.0200,1)" font-size="17.50">S</text>
<rect x="1009.00" y="1708.30" width="39.20" height="12.70" fill="#808080" stroke="#1c1c1c" stroke-width="1.5"/>
<text transform="translate(1057.43,1720.15) scale(1.0200,1)" font-size="17.50">E</text>
<rect x="1009.00" y="1730.30" width="39.20" height="12.70" fill="#dfdfdf" stroke="#1c1c1c" stroke-width="1.5"/>
<text transform="translate(1057.43,1742.15) scale(1.0200,1)" font-size="17.50">R</text>
<line x1="1286.50" y1="1686.05" x2="1286.50" y2="2233.85" stroke="#1c1c1c" stroke-width="1.5"/>
<line x1="1273.30" y1="2233.10" x2="1286.50" y2="2233.10" stroke="#1c1c1c" stroke-width="1.5"/>
<text transform="translate(1240.29,2244.28) scale(0.9350,1)" font-size="33.70">0</text>
<line x1="1273.30" y1="2123.84" x2="1286.50" y2="2123.84" stroke="#1c1c1c" stroke-width="1.5"/>
<text transform="translate(1222.81,2135.02) scale(0.9350,1)" font-size="33.70">20</text>
<line x1="1273.30" y1="2014.58" x2="1286.50" y2="2014.58" stroke="#1c1c1c" stroke-width="1.5"/>
<text transform="translate(1222.81,2025.76) scale(0.9350,1)" font-size="33.70">40</text>
<line x1="1273.30" y1="1905.32" x2="1286.50" y2="1905.32" stroke="#1c1c1c" stroke-width="1.5"/>
<text transform="translate(1222.81,1916.50) scale(0.9350,1)" font-size="33.70">60</text>
<line x1="1273.30" y1="1796.06" x2="1286.50" y2="1796.06" stroke="#1c1c1c" stroke-width="1.5"/>
<text transform="translate(1222.81,1807.24) scale(0.9350,1)" font-size="33.70">80</text>
<line x1="1273.30" y1="1686.80" x2="1286.50" y2="1686.80" stroke="#1c1c1c" stroke-width="1.5"/>
<text transform="translate(1205.24,1697.98) scale(0.9350,1)" font-size="33.70">100</text>
<rect x="1302.95" y="1687.45" width="101.30" height="545.65" fill="#dfdfdf" stroke="#1c1c1c" stroke-width="1.3"/>
<rect x="1302.95" y="1707.60" width="101.30" height="525.50" fill="#808080" stroke="#1c1c1c" stroke-width="1.3"/>
<rect x="1302.30" y="2012.00" width="102.60" height="221.90" fill="#000"/>
<rect x="1415.55" y="1687.45" width="101.00" height="545.65" fill="#dfdfdf" stroke="#1c1c1c" stroke-width="1.3"/>
<rect x="1415.55" y="1760.30" width="101.00" height="472.80" fill="#808080" stroke="#1c1c1c" stroke-width="1.3"/>
<rect x="1414.90" y="1990.90" width="102.30" height="243.00" fill="#000"/>
<rect x="1527.85" y="1687.45" width="101.30" height="545.65" fill="#dfdfdf" stroke="#1c1c1c" stroke-width="1.3"/>
<rect x="1527.85" y="1991.60" width="101.30" height="241.50" fill="#808080" stroke="#1c1c1c" stroke-width="1.3"/>
<rect x="1527.20" y="2075.40" width="102.60" height="158.50" fill="#000"/>
<rect x="1640.15" y="1687.45" width="101.30" height="545.65" fill="#dfdfdf" stroke="#1c1c1c" stroke-width="1.3"/>
<rect x="1640.15" y="1728.90" width="101.30" height="504.20" fill="#808080" stroke="#1c1c1c" stroke-width="1.3"/>
<rect x="1639.50" y="1875.20" width="102.60" height="358.70" fill="#000"/>
<line x1="1273.30" y1="2233.10" x2="1758.70" y2="2233.10" stroke="#1c1c1c" stroke-width="1.5"/>
<line x1="1353.40" y1="2233.10" x2="1353.40" y2="2247.00" stroke="#1c1c1c" stroke-width="1.5"/>
<text transform="translate(1323.07,2290.00) scale(0.9794,1)" font-size="32.30">CTL</text>
<line x1="1466.10" y1="2233.10" x2="1466.10" y2="2247.00" stroke="#1c1c1c" stroke-width="1.5"/>
<text transform="translate(1450.72,2290.00) scale(0.9851,1)" font-size="32.30">PI</text>
<line x1="1578.40" y1="2233.10" x2="1578.40" y2="2247.00" stroke="#1c1c1c" stroke-width="1.5"/>
<text transform="translate(1562.67,2290.00) scale(1.0109,1)" font-size="32.30">CI</text>
<line x1="1690.70" y1="2233.10" x2="1690.70" y2="2247.00" stroke="#1c1c1c" stroke-width="1.5"/>
<text transform="translate(1657.80,2290.00) scale(0.9901,1)" font-size="32.30">CI-R</text>
<text transform="translate(1182.45,2137.09) rotate(-90) scale(0.9827,1)" font-size="35.90">Strategy incidence (%)</text>
<text transform="translate(1159.37,1661.10)" font-size="37.00" font-weight="bold">g</text>
<rect x="1789.50" y="1688.35" width="38.95" height="12.10" fill="#000" stroke="#000" stroke-width="1.5"/>
<text transform="translate(1838.40,1700.50) scale(1.0200,1)" font-size="17.50">S</text>
<rect x="1789.50" y="1710.75" width="38.95" height="11.70" fill="#808080" stroke="#1c1c1c" stroke-width="1.5"/>
<text transform="translate(1837.73,1722.70) scale(1.0200,1)" font-size="17.50">E</text>
<rect x="1789.50" y="1732.75" width="38.95" height="12.10" fill="#dfdfdf" stroke="#1c1c1c" stroke-width="1.5"/>
<text transform="translate(1837.73,1744.90) scale(1.0200,1)" font-size="17.50">R</text>
</svg>
</body>
</html>
